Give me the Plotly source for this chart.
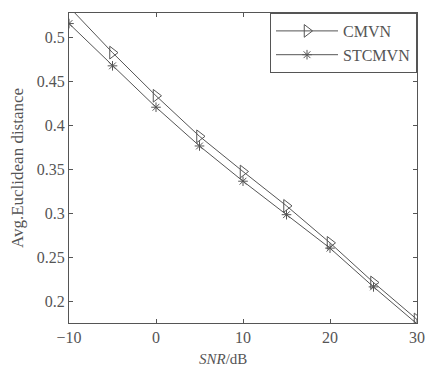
import plotly.graph_objects as go

snr = [-10, -5, 0, 5, 10, 15, 20, 25, 30]
cmvn = [0.535, 0.483, 0.434, 0.388, 0.348, 0.309, 0.267, 0.222, 0.180]
stcmvn = [0.516, 0.468, 0.421, 0.377, 0.337, 0.299, 0.261, 0.217, 0.175]
x_ticks = [-10, 0, 10, 20, 30]
y_ticks = [0.2, 0.25, 0.3, 0.35, 0.4, 0.45, 0.5]

col = "#555555"
font = "Liberation Serif"

fig = go.Figure()
fig.add_trace(go.Scatter(x=snr, y=cmvn, name="CMVN", mode="lines+markers",
                         line=dict(color=col, width=1),
                         marker=dict(symbol="triangle-right-open", size=11,
                                     color=col, line=dict(width=1, color=col))))
fig.add_trace(go.Scatter(x=snr, y=stcmvn, name="STCMVN", mode="lines+markers",
                         line=dict(color=col, width=1),
                         marker=dict(symbol="asterisk-open", size=8,
                                     color=col, line=dict(width=1, color=col))))

fig.update_layout(
    width=429, height=367,
    margin=dict(l=69, r=12, t=13, b=44),
    paper_bgcolor="white", plot_bgcolor="white",
    font=dict(family=font, size=15, color=col),
    showlegend=True,
    legend=dict(x=1, y=1, xanchor="right", yanchor="top",
                bordercolor=col, borderwidth=1, bgcolor="white",
                font=dict(size=16, family=font, color=col),
                tracegroupgap=0, itemwidth=62),
    xaxis=dict(range=[-10, 30], tickvals=x_ticks, ticks="inside", ticklen=4,
               showline=True, linecolor=col, linewidth=1, mirror="ticks",
               showgrid=False, zeroline=False, tickcolor=col,
               tickfont=dict(size=16), automargin=False, ticklabeloverflow="allow"),
    yaxis=dict(range=[0.176, 0.528], tickvals=y_ticks, ticktext=[f"{v:g}" for v in y_ticks],
               ticks="inside", ticklen=4,
               showline=True, linecolor=col, linewidth=1, mirror="ticks",
               showgrid=False, zeroline=False, tickcolor=col,
               tickfont=dict(size=16), automargin=False,
               title=dict(text="Avg.Euclidean distance", standoff=8, font=dict(size=17))),
    annotations=[dict(text="<i>SNR</i>/dB", xref="paper", yref="paper",
                      x=0.443, y=0, yshift=-36, xanchor="center", yanchor="middle",
                      showarrow=False, font=dict(size=15, family=font, color=col))],
)

fig.write_html("out.html", config={"displayModeBar": False},
               post_script="document.body.style.margin='0';document.body.style.overflow='hidden';")
